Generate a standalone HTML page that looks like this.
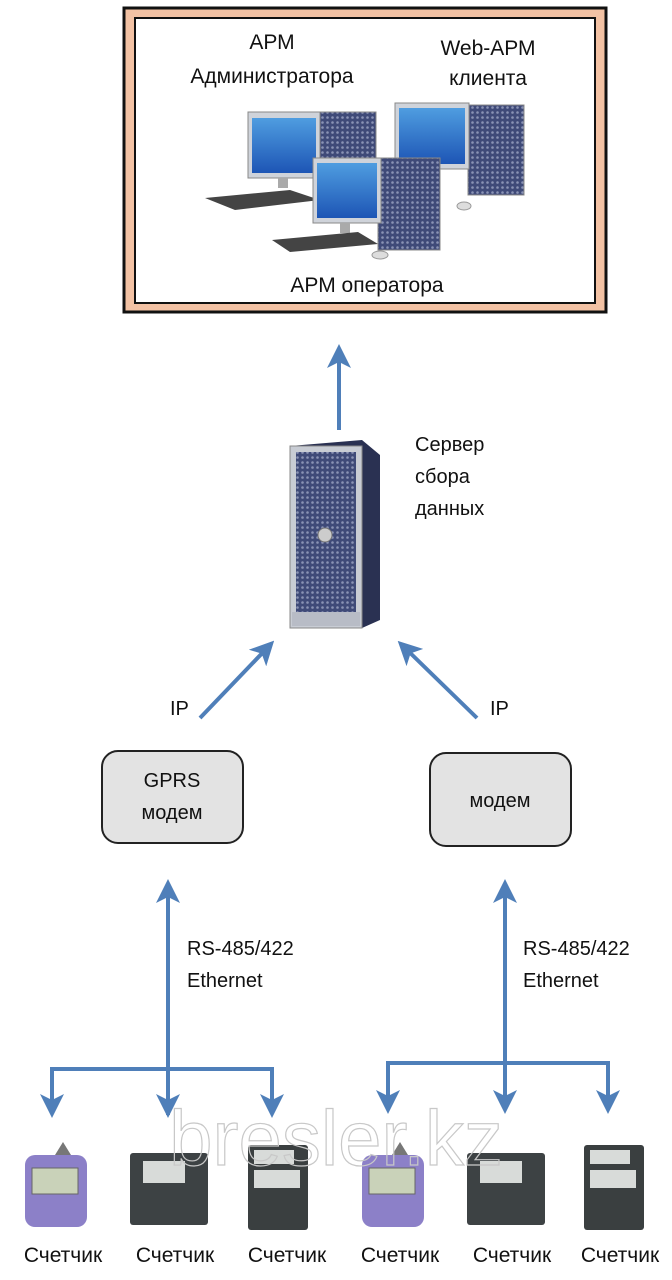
<!DOCTYPE html>
<html><head><meta charset="utf-8"><style>
html,body{margin:0;padding:0;background:#fff}
svg{display:block}
text{font-family:"Liberation Sans",sans-serif;fill:#111}
</style></head><body>
<svg width="672" height="1280" viewBox="0 0 672 1280" xmlns="http://www.w3.org/2000/svg">
<defs>
<marker id="ah" markerWidth="6" markerHeight="6" refX="4.5" refY="3" orient="auto" markerUnits="strokeWidth">
<path d="M0,0 L6,3 L0,6 L1.5,3 Z" fill="#4f7fb9"/></marker>
<pattern id="mesh" width="5" height="5" patternUnits="userSpaceOnUse"><rect width="5" height="5" fill="#3f4a78"/><circle cx="2.5" cy="2.5" r="1.3" fill="#8a93b5"/></pattern>
<linearGradient id="scr" x1="0" y1="0" x2="0" y2="1"><stop offset="0" stop-color="#4f9de0"/><stop offset="1" stop-color="#1d55b5"/></linearGradient>
</defs>

<rect x="124" y="8" width="482" height="304" fill="#f3c2a4" stroke="#111" stroke-width="3"/>
<rect x="135" y="18" width="460" height="285" fill="#fff" stroke="#111" stroke-width="2"/>
<text x="272" y="49" font-size="21" text-anchor="middle">АРМ</text>
<text x="272" y="83" font-size="21" text-anchor="middle">Администратора</text>
<text x="488" y="55" font-size="21" text-anchor="middle">Web-АРМ</text>
<text x="488" y="85" font-size="21" text-anchor="middle">клиента</text>
<text x="367" y="292" font-size="21" text-anchor="middle">АРМ оператора</text>

<g>
<rect x="320" y="112" width="56" height="90" fill="url(#mesh)" stroke="#888"/>
<rect x="248" y="112" width="72" height="66" fill="#cfd3da" stroke="#888"/>
<rect x="252" y="118" width="64" height="55" fill="url(#scr)"/>
<rect x="278" y="178" width="10" height="10" fill="#aaa"/>
<polygon points="205,198 290,190 320,200 235,210" fill="#444"/>
</g>
<g>
<rect x="468" y="105" width="56" height="90" fill="url(#mesh)" stroke="#888"/>
<rect x="395" y="103" width="74" height="66" fill="#cfd3da" stroke="#888"/>
<rect x="399" y="108" width="66" height="56" fill="url(#scr)"/>
<ellipse cx="464" cy="206" rx="7" ry="4" fill="#ddd" stroke="#999"/>
</g>
<g>
<rect x="378" y="158" width="62" height="92" fill="url(#mesh)" stroke="#888"/>
<rect x="313" y="158" width="68" height="65" fill="#cfd3da" stroke="#888"/>
<rect x="317" y="163" width="60" height="55" fill="url(#scr)"/>
<rect x="340" y="223" width="10" height="10" fill="#aaa"/>
<polygon points="272,240 358,232 378,244 290,252" fill="#444"/>
<ellipse cx="380" cy="255" rx="8" ry="4" fill="#ddd" stroke="#999"/>
</g>

<line x1="339" y1="430" x2="339" y2="350" stroke="#4f7fb9" stroke-width="4" marker-end="url(#ah)"/>

<polygon points="290,446 362,440 380,455 380,620 362,628 290,628" fill="#2a3152"/>
<rect x="290" y="446" width="72" height="182" fill="#c8ccd4" stroke="#888"/>
<rect x="296" y="452" width="60" height="160" fill="url(#mesh)"/>
<circle cx="325" cy="535" r="7" fill="#ccc" stroke="#777"/>
<rect x="292" y="612" width="68" height="14" fill="#b8bcc6"/>
<text x="415" y="451" font-size="20">Сервер</text>
<text x="415" y="483" font-size="20">сбора</text>
<text x="415" y="515" font-size="20">данных</text>

<line x1="200" y1="718" x2="270" y2="645" stroke="#4f7fb9" stroke-width="4" marker-end="url(#ah)"/>
<line x1="477" y1="718" x2="402" y2="645" stroke="#4f7fb9" stroke-width="4" marker-end="url(#ah)"/>
<text x="170" y="715" font-size="20">IP</text>
<text x="490" y="715" font-size="20">IP</text>

<rect x="102" y="751" width="141" height="92" rx="16" fill="#e3e3e3" stroke="#222" stroke-width="2"/>
<text x="172" y="787" font-size="20" text-anchor="middle">GPRS</text>
<text x="172" y="819" font-size="20" text-anchor="middle">модем</text>
<rect x="430" y="753" width="141" height="93" rx="16" fill="#e3e3e3" stroke="#222" stroke-width="2"/>
<text x="500" y="807" font-size="20" text-anchor="middle">модем</text>

<line x1="168" y1="1115" x2="168" y2="885" stroke="#4f7fb9" stroke-width="4" marker-end="url(#ah)"/>
<line x1="168" y1="1100" x2="168" y2="1112" stroke="#4f7fb9" stroke-width="4" marker-end="url(#ah)"/>
<line x1="505" y1="1110" x2="505" y2="885" stroke="#4f7fb9" stroke-width="4" marker-end="url(#ah)"/>
<line x1="505" y1="1095" x2="505" y2="1108" stroke="#4f7fb9" stroke-width="4" marker-end="url(#ah)"/>
<text x="187" y="955" font-size="20">RS-485/422</text>
<text x="187" y="987" font-size="20">Ethernet</text>
<text x="523" y="955" font-size="20">RS-485/422</text>
<text x="523" y="987" font-size="20">Ethernet</text>

<g stroke="#4f7fb9" stroke-width="4" fill="none">
<polyline points="52,1112 52,1069 272,1069 272,1112" marker-end="url(#ah)"/>
<line x1="52" y1="1069" x2="52" y2="1112" marker-end="url(#ah)"/>
<polyline points="388,1108 388,1063 608,1063 608,1108" marker-end="url(#ah)"/>
<line x1="388" y1="1063" x2="388" y2="1108" marker-end="url(#ah)"/>
</g>

<g id="m1"><polygon points="55,1155 63,1142 71,1155" fill="#777"/><rect x="25" y="1155" width="62" height="72" rx="10" fill="#8c80c8"/><rect x="32" y="1168" width="46" height="26" fill="#c9d2b9" stroke="#666"/></g>
<g id="m2"><rect x="130" y="1153" width="78" height="72" rx="3" fill="#3d4244"/><rect x="143" y="1161" width="42" height="22" fill="#d8dbd9"/></g>
<g id="m3"><rect x="248" y="1145" width="60" height="85" rx="3" fill="#3a3f40"/><rect x="254" y="1150" width="40" height="14" fill="#d8dbd9"/><rect x="254" y="1170" width="46" height="18" fill="#d8dbd9"/></g>
<use href="#m1" x="337"/><use href="#m2" x="337"/><use href="#m3" x="336"/>

<text x="336" y="1165" font-size="78" text-anchor="middle" stroke="#c8c8c8" stroke-width="1.2" style="fill:none">bresler.kz</text>

<g font-size="21" text-anchor="middle">
<text x="63" y="1262">Счетчик</text><text x="175" y="1262">Счетчик</text><text x="287" y="1262">Счетчик</text>
<text x="400" y="1262">Счетчик</text><text x="512" y="1262">Счетчик</text><text x="620" y="1262">Счетчик</text>
</g>
</svg>
</body></html>
